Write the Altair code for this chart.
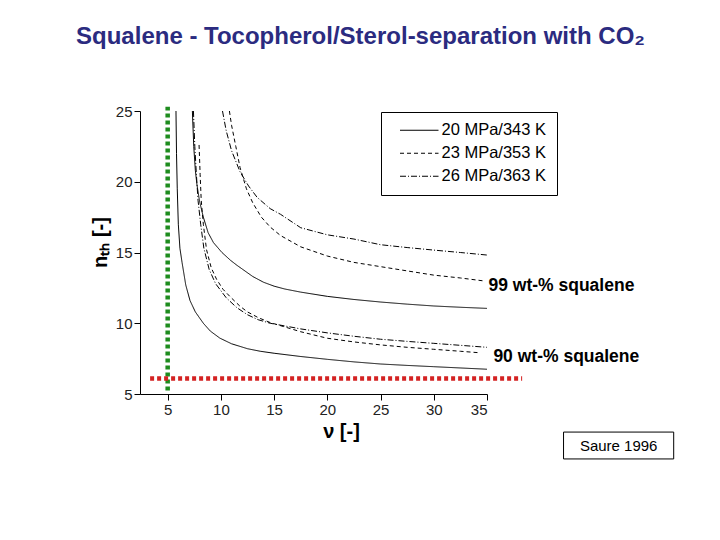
import altair as alt
import pandas as pd

# ---------------- data ----------------
conditions = ["20 MPa/343 K", "23 MPa/353 K", "26 MPa/363 K"]

# 20 MPa / 343 K (solid)
s20_90_x = [5.78, 5.83, 5.9, 6.0, 6.15, 6.35, 6.7, 7.1, 7.6, 8.35, 9.0, 9.9, 11.0, 12.5, 13.7, 15.0, 17.5, 20.0, 22.5, 25.0, 27.5, 30.0, 32.5, 35.0]
s20_90_y = [25.0, 22.0, 19.5, 17.0, 15.3, 14.3, 12.7, 11.6, 10.8, 10.0, 9.45, 8.95, 8.55, 8.2, 8.02, 7.88, 7.65, 7.45, 7.27, 7.12, 7.02, 6.93, 6.84, 6.75]
s20_99_x = [7.32, 7.45, 7.6, 7.75, 8.0, 8.35, 8.8, 9.3, 10.1, 10.9, 11.5, 13.0, 14.0, 15.0, 16.0, 17.5, 20.0, 22.5, 25.0, 27.5, 30.0, 32.5, 35.0]
s20_99_y = [25.0, 22.5, 20.8, 19.8, 18.6, 17.5, 16.4, 15.7, 15.0, 14.45, 14.1, 13.3, 12.9, 12.62, 12.42, 12.2, 11.9, 11.68, 11.5, 11.35, 11.22, 11.13, 11.05]

# 23 MPa / 353 K (dashed)
s23_90_x = [7.95, 8.05, 8.15, 8.35, 8.65, 9.1, 9.6, 10.2, 10.9, 11.8, 12.5, 13.5, 14.63, 17.5, 20.0, 22.5, 25.0, 27.5, 30.0, 32.5, 34.2]
s23_90_y = [22.6, 20.5, 18.7, 17.0, 15.2, 13.9, 13.1, 12.4, 11.85, 11.2, 10.8, 10.4, 10.05, 9.4, 8.94, 8.68, 8.47, 8.3, 8.16, 8.02, 7.92]
s23_99_x = [10.8, 11.0, 11.4, 11.8, 12.4, 13.0, 13.8, 14.63, 15.6, 17.5, 20.0, 22.5, 25.0, 27.5, 30.0, 32.5, 34.6]
s23_99_y = [25.0, 24.0, 22.5, 21.0, 19.5, 18.5, 17.5, 16.8, 16.2, 15.4, 14.75, 14.3, 14.0, 13.7, 13.4, 13.2, 13.0]

# 26 MPa / 363 K (dash-dot)
s26_90_x = [7.42, 7.55, 7.7, 7.85, 8.1, 8.4, 8.9, 9.5, 10.5, 11.5, 12.5, 13.5, 14.63, 17.5, 20.0, 22.5, 25.0, 27.5, 30.0, 32.5, 35.0]
s26_90_y = [25.0, 22.5, 20.5, 18.7, 17.0, 15.3, 13.8, 12.8, 11.8, 11.1, 10.6, 10.25, 10.0, 9.6, 9.32, 9.08, 8.87, 8.72, 8.58, 8.44, 8.3]
s26_99_x = [10.15, 10.5, 11.0, 11.8, 12.6, 13.4, 14.63, 15.6, 17.5, 20.0, 22.5, 25.0, 27.5, 30.0, 32.5, 35.0]
s26_99_y = [25.0, 23.6, 22.2, 20.7, 19.7, 18.9, 18.1, 17.7, 16.75, 16.25, 15.95, 15.55, 15.35, 15.17, 15.0, 14.82]

# reference lines
green_x = [5.0, 5.0]
green_y = [5.25, 25.3]
red_x = [3.35, 38.3]
red_y = [6.1, 6.1]

# annotations
note_text = ["99 wt-% squalene", "90 wt-% squalene"]
note_x = [35.14, 35.6]
note_y = [12.63, 7.62]
source_text = ["Saure 1996"]
source_x = [47.37]
source_y = [1.33]
source_box_x = [42.19]
source_box_x2 = [52.54]
source_box_y = [2.31]
source_box_y2 = [0.41]

x_ticks = [5, 7.5, 10, 12.5, 15, 17.5, 20, 22.5, 25, 27.5, 30, 32.5, 35]
y_ticks = [5, 7.5, 10, 12.5, 15, 17.5, 20, 22.5, 25]

# ---------------- build tables ----------------
rows = []
series = [
    (conditions[0], "99", s20_99_x, s20_99_y),
    (conditions[0], "90", s20_90_x, s20_90_y),
    (conditions[1], "99", s23_99_x, s23_99_y),
    (conditions[1], "90", s23_90_x, s23_90_y),
    (conditions[2], "99", s26_99_x, s26_99_y),
    (conditions[2], "90", s26_90_x, s26_90_y),
]
for cond, pur, xs, ys in series:
    for i, (xv, yv) in enumerate(zip(xs, ys)):
        rows.append({"cond": cond, "series": cond + " " + pur, "i": i, "x": xv, "y": yv})
curves = pd.DataFrame(rows)

FONT = "Liberation Sans"
xscale = alt.Scale(domain=[2.4, 35], nice=False, zero=False)
yscale = alt.Scale(domain=[5, 25], nice=False, zero=False)

tick_size = {"condition": {"test": "datum.value % 5 == 0", "value": 6}, "value": 3}

x_axis = alt.Axis(
    values=x_ticks, labelExpr="datum.value % 5 == 0 ? datum.label : ''",
    tickSize=tick_size, grid=False, labelFont=FONT, labelFontSize=15, labelColor="#222",
    labelPadding=2, domainColor="#000", tickColor="#000",
    title="ν [-]", titleFont=FONT, titleFontSize=20, titleFontWeight="bold", titleColor="#000",
    titleX=201, titleY=43, titleBaseline="alphabetic", titleAlign="center",
)
y_axis = alt.Axis(
    values=y_ticks, labelExpr="datum.value % 5 == 0 ? datum.label : ''",
    tickSize=tick_size, grid=False, labelFont=FONT, labelFontSize=15, labelColor="#222",
    labelPadding=2, domainColor="#000", tickColor="#000",
    title="nₜₕ [-]", titleFont=FONT, titleFontSize=20, titleFontWeight="bold", titleColor="#000",
    titleAngle=270, titleX=-40, titleY=131, titleAlign="center", titleBaseline="middle",
)

lines = alt.Chart(curves).mark_line(color="black", strokeWidth=1).encode(
    x=alt.X("x:Q", scale=xscale, axis=x_axis),
    y=alt.Y("y:Q", scale=yscale, axis=y_axis),
    detail="series:N",
    order="i:Q",
    strokeDash=alt.StrokeDash(
        "cond:N",
        scale=alt.Scale(domain=conditions, range=[[1, 0], [4, 3], [6, 2, 1, 2]]),
        legend=alt.Legend(
            title=None, orient="none", legendX=241, legendY=1,
            strokeColor="black", fillColor="white", padding=10, cornerRadius=0,
            labelFont=FONT, labelFontSize=16.5, labelColor="#000",
            symbolType="M-3.5,0H3.5", symbolSize=121, symbolStrokeWidth=1,
            symbolStrokeColor="black", rowPadding=6, symbolOffset=20, labelOffset=14,
        ),
    ),
)

green = alt.Chart(pd.DataFrame({"x": green_x, "y": green_y})).mark_line(
    color="#1E8C1E", strokeWidth=4.5, strokeDash=[4, 3], clip=False
).encode(x=alt.X("x:Q", scale=xscale), y=alt.Y("y:Q", scale=yscale))

red = alt.Chart(pd.DataFrame({"x": red_x, "y": red_y})).mark_line(
    color="#D42222", strokeWidth=4.5, strokeDash=[4, 3], clip=False
).encode(x=alt.X("x:Q", scale=xscale), y=alt.Y("y:Q", scale=yscale))

notes = alt.Chart(pd.DataFrame({"t": note_text, "x": note_x, "y": note_y})).mark_text(
    align="left", baseline="middle", font=FONT, fontSize=17.5, fontWeight="bold", color="#000", clip=False
).encode(x=alt.X("x:Q", scale=xscale), y=alt.Y("y:Q", scale=yscale), text="t:N")

src_box = alt.Chart(pd.DataFrame({"x": source_box_x, "x2": source_box_x2,
                                  "y": source_box_y, "y2": source_box_y2})).mark_rect(
    fill="white", stroke="black", strokeWidth=1, clip=False
).encode(x=alt.X("x:Q", scale=xscale), x2="x2:Q", y=alt.Y("y:Q", scale=yscale), y2="y2:Q")

src_text = alt.Chart(pd.DataFrame({"t": source_text, "x": source_x, "y": source_y})).mark_text(
    align="center", baseline="middle", font=FONT, fontSize=15, color="#000", clip=False
).encode(x=alt.X("x:Q", scale=xscale), y=alt.Y("y:Q", scale=yscale), text="t:N")

chart = alt.layer(lines, green, red, notes, src_box, src_text).properties(
    width=347, height=283,
    autosize=alt.AutoSizeParams(type="none"),
    padding={"left": 132, "top": 103, "right": 225, "bottom": 138},
    title=alt.TitleParams(
        "Squalene - Tocopherol/Sterol-separation with CO₂",
        font=FONT, fontSize=24, fontWeight="bold", color="#2B2B80",
        anchor="middle", frame="group", dx=47, dy=-45,
    ),
).configure(background="white").configure_view(stroke=None)

chart.save("out.html", embed_options={"renderer": "svg", "actions": False})
